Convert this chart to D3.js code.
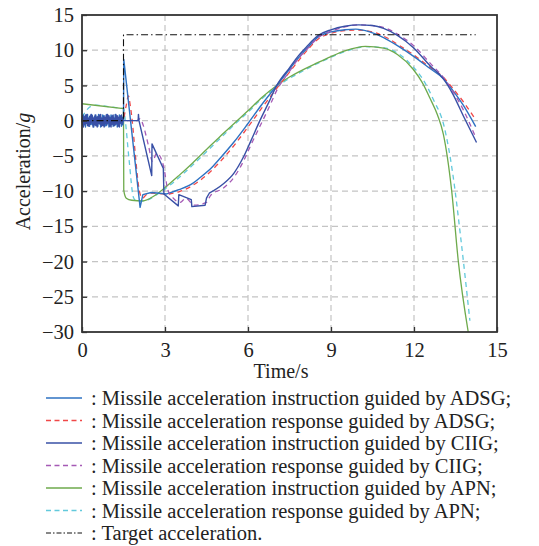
<!DOCTYPE html>
<html>
<head>
<meta charset="utf-8">
<script src="https://cdn.jsdelivr.net/npm/d3@7"></script>
<style>
  body { margin: 0; background: #fff; }
  svg text { font-family: "Liberation Serif", "Times New Roman", serif; fill: #222; }
</style>
</head>
<body>
<div id="chart"></div>
<script>
// axis ticks
const xTicks = [0, 3, 6, 9, 12, 15];
const yTicks = [-30, -25, -20, -15, -10, -5, 0, 5, 10, 15];

// measurement noise before the target starts manoeuvring (t = 0 .. 1.5 s, step 0.025 s)
const noiseStep = 0.025;
const adsgNoise = [0.3,-0.6,0.8,-0.4,0.6,-0.9,0.5,-0.3,0.9,-0.7,0.4,-0.8,0.7,-0.5,0.9,-0.6,0.3,-0.9,0.6,-0.4,0.8,-0.7,0.5,-0.8,0.9,-0.3,0.6,-0.9,0.4,-0.6,0.8,-0.5,0.7,-0.8,0.3,-0.7,0.9,-0.4,0.6,-0.9,0.5,-0.6,0.8,-0.3,0.7,-0.8,0.4,-0.7,0.9,-0.5,0.6,-0.9,0.3,-0.6,0.8,-0.4,0.7,-0.8,0.5,-0.6,0.2];
const ciigNoise = [-0.2,0.7,-0.9,0.5,-0.6,0.8,-0.4,0.9,-0.7,0.3,-0.8,0.6,-0.5,0.9,-0.3,0.7,-0.9,0.4,-0.6,0.8,-0.7,0.5,-0.9,0.6,-0.4,0.8,-0.5,0.9,-0.8,0.3,-0.7,0.6,-0.9,0.5,-0.4,0.8,-0.6,0.9,-0.3,0.7,-0.8,0.4,-0.9,0.6,-0.5,0.8,-0.7,0.3,-0.6,0.9,-0.4,0.7,-0.8,0.5,-0.9,0.6,-0.3,0.8,-0.5,0.4,0];

// [time s, acceleration g]
const adsgCmd = [[1.5,0],[1.51,8.7],[2.10,-12.3],[2.2,-10.5],[2.5,-10.2],[2.8,-10.3],[3.06,-10.4],[3.5,-9.8],[4.0,-8.9],[4.26,-8.1],[4.7,-6.6],[5.0,-5.3],[5.5,-3.0],[6.0,-0.4],[6.5,2.3],[7.04,5.0],[7.5,7.3],[7.82,8.9],[8.12,10.2],[8.54,11.9],[9.0,12.6],[9.5,12.9],[9.9,13.0],[10.4,12.6],[10.9,11.8],[11.4,10.65],[12.0,9.1],[12.58,7.4],[13.05,6.0],[13.4,4.3],[13.78,2.2],[14.23,-0.85]];
const adsgResp = [[0,0],[1.5,0],[1.6,2.2],[1.68,3.5],[1.75,2.0],[2.1,-10.4],[2.2,-11.0],[2.3,-10.6],[2.5,-10.3],[3.0,-10.4],[3.5,-10.1],[4.26,-8.5],[5.0,-5.8],[5.5,-3.5],[6.0,-0.9],[6.5,1.8],[7.04,4.6],[7.5,6.9],[7.82,8.5],[8.12,9.9],[8.54,11.6],[9.0,12.4],[9.5,12.8],[10.0,12.85],[10.5,12.6],[11.0,11.8],[11.5,10.6],[12.0,9.3],[12.6,7.5],[13.05,6.2],[13.4,4.6],[13.8,2.6],[14.2,0.3]];
const ciigCmd = [[1.5,0],[2.03,0],[2.04,0.9],[2.06,0],[2.52,-7.8],[2.53,-3.3],[2.94,-6.8],[2.96,-10.4],[3.48,-12.1],[3.5,-10.5],[3.95,-11.2],[3.97,-12.2],[4.45,-12.0],[4.5,-11.0],[4.6,-10.3],[5.1,-9.0],[5.5,-7.4],[5.83,-5.2],[6.1,-2.9],[6.43,0],[6.75,2.6],[7.04,5.0],[7.5,7.5],[7.82,9.2],[8.12,10.5],[8.54,12.1],[9.0,12.9],[9.5,13.4],[10.0,13.6],[10.5,13.5],[10.9,13.1],[11.4,12.1],[11.97,10.4],[12.58,7.8],[13.05,6.0],[13.4,3.8],[13.78,0.7],[14.26,-3.1]];
const ciigResp = [[0,0],[1.5,0],[2.0,0],[2.1,0.3],[2.2,-0.5],[2.4,-3.5],[2.55,-5.8],[2.7,-4.6],[2.95,-6.5],[3.1,-9.8],[3.3,-11.0],[3.55,-11.6],[3.75,-11.0],[4.05,-12.0],[4.5,-11.6],[4.65,-10.6],[5.1,-9.6],[5.5,-8.0],[5.83,-5.8],[6.1,-3.5],[6.43,-0.8],[6.75,1.8],[7.04,4.3],[7.5,7.0],[7.82,8.8],[8.12,10.1],[8.54,11.8],[9.0,12.7],[9.5,13.3],[10.0,13.6],[10.5,13.5],[11.0,13.1],[11.4,12.3],[12.0,10.6],[12.6,8.1],[13.05,6.2],[13.4,4.2],[13.8,1.4],[14.2,-2.1]];
const apnCmd = [[0,2.4],[1.5,1.7],[1.51,-9.9],[1.6,-11.0],[1.8,-11.3],[2.2,-11.4],[2.6,-10.7],[3.0,-9.5],[3.5,-7.8],[4.0,-6.0],[4.5,-4.1],[5.0,-2.2],[5.5,-0.4],[6.0,1.4],[6.5,3.3],[7.04,5.0],[7.5,6.2],[7.82,6.9],[8.5,8.2],[9.0,9.1],[9.5,9.9],[10.25,10.55],[10.9,10.3],[11.4,9.4],[11.97,7.3],[12.3,5.4],[12.6,3.0],[12.85,0.8],[13.06,-1.9],[13.36,-9.9],[13.6,-19.9],[13.96,-30]];
const apnResp = [[0,0.5],[0.15,1.4],[0.3,2.0],[0.5,2.2],[1.0,1.95],[1.5,1.7],[1.55,0.5],[1.7,-5.5],[1.86,-10.9],[2.0,-11.5],[2.4,-11.2],[2.7,-10.5],[3.0,-9.7],[3.5,-8.1],[4.0,-6.3],[4.5,-4.4],[5.0,-2.5],[5.5,-0.6],[6.0,1.2],[6.5,3.1],[7.04,4.8],[7.5,6.0],[7.82,6.7],[8.5,8.1],[9.0,9.0],[9.5,9.8],[10.25,10.5],[10.9,10.35],[11.4,9.6],[12.0,7.5],[12.3,6.0],[12.7,3.0],[13.1,-1.0],[13.4,-7.5],[13.7,-17],[14.02,-28.4]];
const target = [[0,0],[1.5,0],[1.5,12.2],[14.23,12.2]];

const legendLabels = [
  ": Missile acceleration instruction guided by ADSG;",
  ": Missile acceleration response guided by ADSG;",
  ": Missile acceleration instruction guided by CIIG;",
  ": Missile acceleration response guided by CIIG;",
  ": Missile acceleration instruction guided by APN;",
  ": Missile acceleration response guided by APN;",
  ": Target acceleration."
];

const width = 539, height = 546;
const margin = { left: 82, right: 42, top: 15, bottom: 214 };

const svg = d3.select("#chart").append("svg")
  .attr("width", width)
  .attr("height", height);

const x = d3.scaleLinear().domain([0, 15]).range([margin.left, width - margin.right]);
const y = d3.scaleLinear().domain([-30, 15]).range([height - margin.bottom, margin.top]);

// grid
const grid = svg.append("g")
  .attr("stroke", "#c4c4c4")
  .attr("stroke-width", 1.2)
  .attr("stroke-dasharray", "6,4");
grid.selectAll(".gx").data(xTicks.slice(1, -1)).enter().append("line")
  .attr("x1", d => x(d)).attr("x2", d => x(d))
  .attr("y1", y(15)).attr("y2", y(-30));
grid.selectAll(".gy").data(yTicks.slice(1, -1)).enter().append("line")
  .attr("x1", x(0)).attr("x2", x(15))
  .attr("y1", d => y(d)).attr("y2", d => y(d));

// series; the jagged start of each curve is drawn straight, the rest smoothed
const noisePts = arr => arr.map((v, i) => [i * noiseStep, v]);
const series = [
  { data: target, color: "#111", dash: "7,3,1.5,3", w: 1.1, sharpUntil: 99 },
  { data: noisePts(adsgNoise).concat(adsgCmd), color: "#2e72c2", dash: null, w: 1.4, sharpUntil: 3.06 },
  { data: adsgResp, color: "#f04848", dash: "5,4", w: 1.3, sharpUntil: 1.5 },
  { data: noisePts(ciigNoise).concat(ciigCmd), color: "#3950a6", dash: null, w: 1.4, sharpUntil: 4.6 },
  { data: ciigResp, color: "#a55ab5", dash: "5,4", w: 1.3, sharpUntil: 2.0 },
  { data: apnCmd, color: "#6eaa4c", dash: null, w: 1.3, sharpUntil: 1.5 },
  { data: apnResp, color: "#62c9dc", dash: "5,4", w: 1.3, sharpUntil: 0 }
];

const straight = d3.line().x(d => x(d[0])).y(d => y(Math.max(d[1], -30))).curve(d3.curveLinear);
const smooth = d3.line().x(d => x(d[0])).y(d => y(Math.max(d[1], -30))).curve(d3.curveMonotoneX);
const pathFor = s => {
  const head = s.data.filter(d => d[0] <= s.sharpUntil);
  const tail = s.data.filter(d => d[0] >= s.sharpUntil);
  let p = head.length > 1 ? straight(head) : "";
  if (tail.length > 1) {
    const t = smooth(tail);
    p += p ? "L" + t.slice(1) : t;
  }
  return p;
};

const drawOrder = [6, 5, 2, 1, 4, 3, 0];
svg.append("g").selectAll("path")
  .data(drawOrder.map(i => series[i]))
  .enter().append("path")
  .attr("fill", "none")
  .attr("stroke", d => d.color)
  .attr("stroke-width", d => d.w)
  .attr("stroke-dasharray", d => d.dash)
  .attr("stroke-linejoin", "round")
  .attr("d", pathFor);

// axes
const xAxis = d3.axisBottom(x).tickValues(xTicks).tickSizeInner(-5).tickSizeOuter(0).tickPadding(10);
const yAxis = d3.axisLeft(y).tickValues(yTicks).tickSizeInner(-5).tickSizeOuter(0).tickPadding(8);

const gx = svg.append("g").attr("transform", `translate(0,${y(-30)})`).call(xAxis);
const gy = svg.append("g").attr("transform", `translate(${x(0)},0)`).call(yAxis);
[gx, gy].forEach(g => {
  g.select(".domain").remove();
  g.selectAll(".tick line").attr("stroke", "#333").attr("stroke-width", 1.3);
  g.selectAll("text").attr("font-size", 20.5).attr("font-family", "Liberation Serif").attr("fill", "#222");
});

svg.append("rect")
  .attr("x", x(0)).attr("y", y(15))
  .attr("width", x(15) - x(0)).attr("height", y(-30) - y(15))
  .attr("fill", "none").attr("stroke", "#333").attr("stroke-width", 1.8);

// axis titles
svg.append("text")
  .attr("x", 281).attr("y", 378)
  .attr("text-anchor", "middle")
  .attr("font-size", 20)
  .text("Time/s");

const yl = svg.append("text")
  .attr("transform", `translate(30,${(y(15) + y(-30)) / 2 - 2}) rotate(-90)`)
  .attr("text-anchor", "middle")
  .attr("font-size", 20);
yl.append("tspan").text("Acceleration/");
yl.append("tspan").attr("font-style", "italic").text("g");

// legend
const legend = svg.append("g");
const rows = legend.selectAll("g").data(legendLabels).enter().append("g")
  .attr("transform", (d, i) => `translate(0,${398 + i * 22.5})`);
rows.append("line")
  .attr("x1", 46).attr("x2", 82)
  .attr("stroke", (d, i) => series[i + 1 > 6 ? 0 : i + 1].color)
  .attr("stroke-width", (d, i) => i === 6 ? 1 : 1.3)
  .attr("stroke-dasharray", (d, i) => i === 6 ? "5,2,1.5,2" : (series[i + 1].dash ? "5,3.5" : null));
rows.append("text")
  .attr("x", 91).attr("y", 7)
  .attr("font-size", 20.5)
  .text(d => d);
</script>
</body>
</html>
